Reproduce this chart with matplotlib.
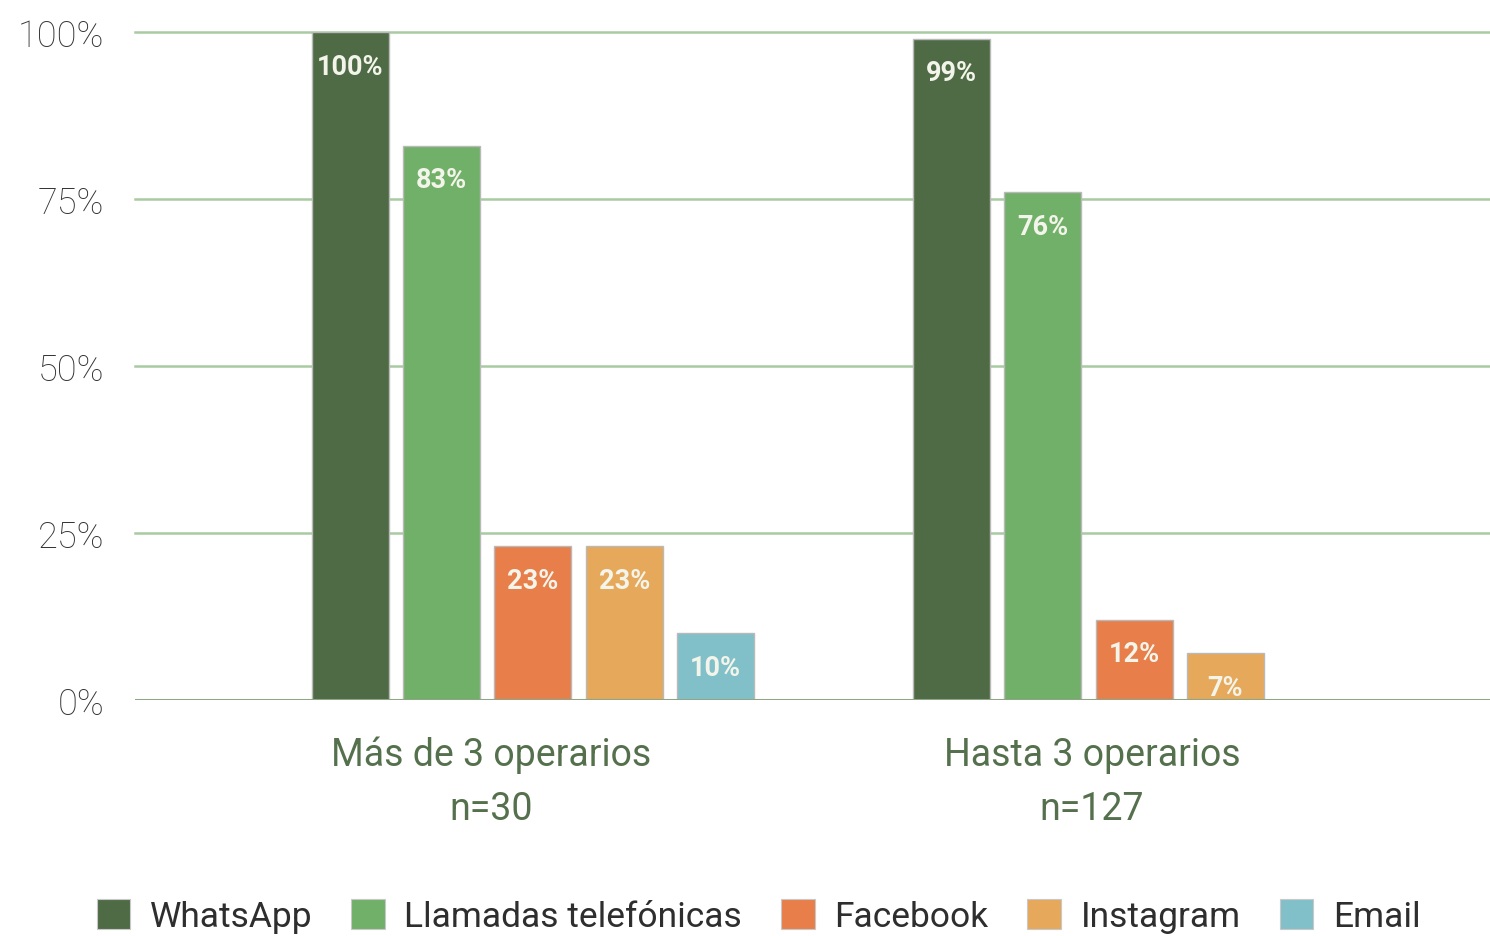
#!/usr/bin/env python3
"""Grouped bar chart: canales de contacto por tamaño de empresa."""

import matplotlib
matplotlib.use("Agg")
import matplotlib.pyplot as plt
from matplotlib.patches import Patch
import numpy as np

groups = ["Más de 3 operarios", "Hasta 3 operarios"]
group_n = ["n=30", "n=127"]
channels = ["WhatsApp", "Llamadas telefónicas", "Facebook", "Instagram", "Email"]
whatsapp = [100, 99]
llamadas = [83, 76]
facebook = [23, 12]
instagram = [23, 7]
email = [10, None]
y_ticks = [0, 25, 50, 75, 100]

colors = ["#4f6b45", "#71b069", "#e87e4a", "#e6a85a", "#82c0c9"]
series = [whatsapp, llamadas, facebook, instagram, email]

plt.rcParams["font.family"] = ["Roboto", "DejaVu Sans"]

fig = plt.figure(figsize=(14.9, 9.37), dpi=100)
ax = fig.add_axes([0.0906, 0.2519, 0.9094, 0.7129])

x = np.arange(len(groups))
bar_w = 0.128
step = 0.152
first = -0.234

for i, (vals, col) in enumerate(zip(series, colors)):
  for gx, v in zip(x, vals):
    if v is None:
      continue
    xpos = gx + first + i * step
    ax.bar(xpos, v, width=bar_w, color=col, edgecolor="#b9b9b9",
           linewidth=1, zorder=3)
    ax.annotate(f"{v}%", (xpos, v), xytext=(0, -24.5), textcoords="offset points",
                ha="center", va="center", fontsize=19.5, fontweight="bold",
                color="#f3f4ea", zorder=4)

ax.set_xlim(-0.592, 1.662)
ax.set_ylim(0, 100)
ax.set_yticks(y_ticks)
ax.set_yticklabels([f"{t}%" for t in y_ticks])
ax.tick_params(axis="y", length=0, pad=22, labelsize=26, labelcolor="#333333")
for lbl in ax.get_yticklabels():
  lbl.set_fontweight("light")
ax.set_xticks([])

for t in y_ticks[1:]:
  ax.axhline(t, color="#a9cba1", linewidth=1.8, zorder=1, clip_on=False)
ax.axhline(0, color="#8fa686", linewidth=2.2, zorder=5)

for s in ax.spines.values():
  s.set_visible(False)

xform = ax.get_xaxis_transform()
for gx, name, n in zip(x, groups, group_n):
  ax.text(gx, -0.081, name, transform=xform, ha="center", va="center",
          fontsize=27, color="#55704c")
  ax.text(gx, -0.163, n, transform=xform, ha="center", va="center",
          fontsize=27, color="#55704c")

handles = [Patch(facecolor=c, edgecolor="#c8c8c8", linewidth=0.8) for c in colors]
leg = fig.legend(handles, channels, loc="center", bbox_to_anchor=(0.509, 0.0213),
                 ncol=5, frameon=False, fontsize=25.5, handlelength=0.95,
                 handleheight=0.95, handletextpad=0.55, columnspacing=1.1,
                 borderaxespad=0, borderpad=0)
for t in leg.get_texts():
  t.set_color("#2e2e2e")

fig.savefig("out.png", dpi=100, facecolor="white")
plt.close(fig)
